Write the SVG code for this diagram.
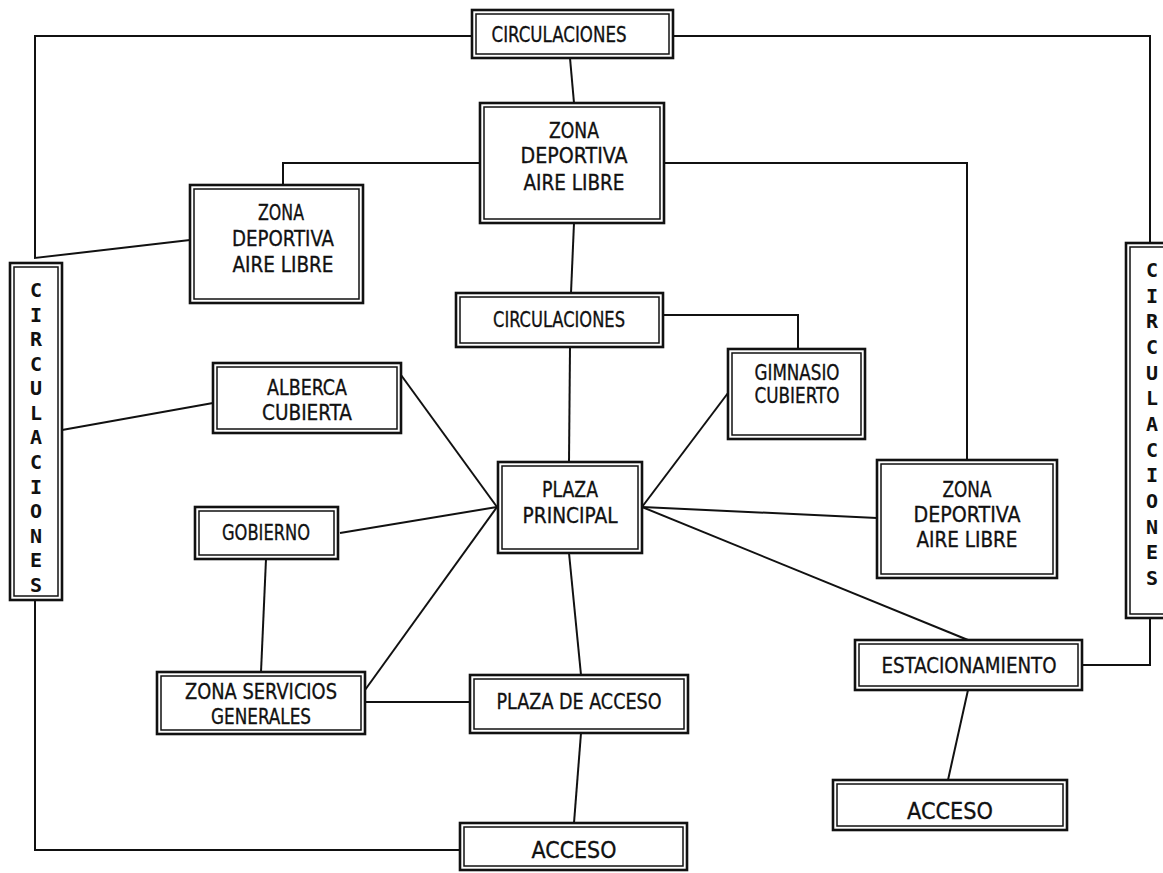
<svg xmlns="http://www.w3.org/2000/svg" width="1163" height="873" viewBox="0 0 1163 873">
<style>
.o{fill:#fff;stroke:#111;stroke-width:2.6}
.i{fill:none;stroke:#111;stroke-width:1.5}
.t{font-family:"DejaVu Sans Condensed","Liberation Sans",sans-serif;font-size:20.5px;fill:#111;stroke:#111;stroke-width:0.3;text-anchor:middle}
.a{font-size:23px}
.v{font-family:"DejaVu Sans Mono","Liberation Mono",monospace;font-size:20px;font-weight:bold;fill:#111;text-anchor:middle}
.c{fill:none;stroke:#111;stroke-width:2}
</style>
<rect width="1163" height="873" fill="#fff"/>
<g id="connectors">
<polyline class="c" points="472,36 35,36 35,258 190,240"/>
<polyline class="c" points="673,36 1150,36 1150,243"/>
<line class="c" x1="570" y1="58" x2="574" y2="103"/>
<polyline class="c" points="480,163 283,163 283,185"/>
<polyline class="c" points="664,163 967,163 967,460"/>
<line class="c" x1="574" y1="223" x2="571" y2="293"/>
<line class="c" x1="570" y1="347" x2="569" y2="462"/>
<polyline class="c" points="663,315 798,315 798,349"/>
<line class="c" x1="62" y1="430" x2="213" y2="403"/>
<line class="c" x1="401" y1="375" x2="497" y2="507"/>
<line class="c" x1="340" y1="533" x2="497" y2="507"/>
<line class="c" x1="365" y1="690" x2="497" y2="507"/>
<line class="c" x1="728" y1="393" x2="642" y2="507"/>
<line class="c" x1="642" y1="507" x2="877" y2="518"/>
<line class="c" x1="642" y1="507" x2="968" y2="640"/>
<line class="c" x1="266" y1="559" x2="261" y2="672"/>
<line class="c" x1="365" y1="702" x2="470" y2="702"/>
<line class="c" x1="569" y1="553" x2="581" y2="675"/>
<line class="c" x1="581" y1="733" x2="574" y2="823"/>
<polyline class="c" points="35,600 35,850 460,850"/>
<polyline class="c" points="1082,665 1150,665 1150,618"/>
<line class="c" x1="968" y1="690" x2="948" y2="780"/>
</g>
<g id="circ-top"><rect class="o" x="472" y="10" width="201" height="48"/><rect class="i" x="476" y="14" width="193" height="40"/><text class="t" x="559" y="42" textLength="135" lengthAdjust="spacingAndGlyphs">CIRCULACIONES</text></g>
<g id="zona-top"><rect class="o" x="480" y="103" width="184" height="120"/><rect class="i" x="484" y="107" width="176" height="112"/><text class="t" x="574" y="138" textLength="50" lengthAdjust="spacingAndGlyphs">ZONA</text><text class="t" x="574" y="163" textLength="107" lengthAdjust="spacingAndGlyphs">DEPORTIVA</text><text class="t" x="574" y="190" textLength="101" lengthAdjust="spacingAndGlyphs">AIRE LIBRE</text></g>
<g id="zona-left"><rect class="o" x="190" y="185" width="173" height="118"/><rect class="i" x="194" y="189" width="165" height="110"/><text class="t" x="281" y="220" textLength="46" lengthAdjust="spacingAndGlyphs">ZONA</text><text class="t" x="283" y="246" textLength="102" lengthAdjust="spacingAndGlyphs">DEPORTIVA</text><text class="t" x="283" y="272" textLength="101" lengthAdjust="spacingAndGlyphs">AIRE LIBRE</text></g>
<g id="circ-left"><rect class="o" x="10" y="263" width="52" height="337"/><rect class="i" x="14" y="267" width="44" height="329"/>
<text class="v" x="36" y="297">C</text><text class="v" x="36" y="322">I</text><text class="v" x="36" y="346">R</text><text class="v" x="36" y="371">C</text><text class="v" x="36" y="395">U</text><text class="v" x="36" y="420">L</text><text class="v" x="36" y="444">A</text><text class="v" x="36" y="469">C</text><text class="v" x="36" y="494">I</text><text class="v" x="36" y="518">O</text><text class="v" x="36" y="543">N</text><text class="v" x="36" y="567">E</text><text class="v" x="36" y="592">S</text></g>
<g id="circ-mid"><rect class="o" x="456" y="293" width="207" height="54"/><rect class="i" x="460" y="297" width="199" height="46"/><text class="t" x="559" y="327" textLength="132" lengthAdjust="spacingAndGlyphs">CIRCULACIONES</text></g>
<g id="alberca"><rect class="o" x="213" y="363" width="188" height="70"/><rect class="i" x="217" y="367" width="180" height="62"/><text class="t" x="307" y="395" textLength="80" lengthAdjust="spacingAndGlyphs">ALBERCA</text><text class="t" x="307" y="420" textLength="90" lengthAdjust="spacingAndGlyphs">CUBIERTA</text></g>
<g id="gimnasio"><rect class="o" x="728" y="349" width="137" height="90"/><rect class="i" x="732" y="353" width="129" height="82"/><text class="t" x="797" y="380" textLength="85" lengthAdjust="spacingAndGlyphs">GIMNASIO</text><text class="t" x="797" y="403" textLength="85" lengthAdjust="spacingAndGlyphs">CUBIERTO</text></g>
<g id="plaza-principal"><rect class="o" x="498" y="462" width="144" height="91"/><rect class="i" x="502" y="466" width="136" height="83"/><text class="t" x="570" y="497" textLength="56" lengthAdjust="spacingAndGlyphs">PLAZA</text><text class="t" x="570" y="523" textLength="95" lengthAdjust="spacingAndGlyphs">PRINCIPAL</text></g>
<g id="zona-right"><rect class="o" x="877" y="460" width="180" height="118"/><rect class="i" x="881" y="464" width="172" height="110"/><text class="t" x="967" y="497" textLength="49" lengthAdjust="spacingAndGlyphs">ZONA</text><text class="t" x="967" y="522" textLength="107" lengthAdjust="spacingAndGlyphs">DEPORTIVA</text><text class="t" x="967" y="547" textLength="101" lengthAdjust="spacingAndGlyphs">AIRE LIBRE</text></g>
<g id="gobierno"><rect class="o" x="195" y="507" width="143" height="52"/><rect class="i" x="199" y="511" width="135" height="44"/><text class="t" x="266" y="540" textLength="88" lengthAdjust="spacingAndGlyphs">GOBIERNO</text></g>
<g id="servicios"><rect class="o" x="157" y="672" width="208" height="62"/><rect class="i" x="161" y="676" width="200" height="54"/><text class="t" x="261" y="699" textLength="152" lengthAdjust="spacingAndGlyphs">ZONA SERVICIOS</text><text class="t" x="261" y="724" textLength="100" lengthAdjust="spacingAndGlyphs">GENERALES</text></g>
<g id="plaza-acceso"><rect class="o" x="470" y="675" width="218" height="58"/><rect class="i" x="474" y="679" width="210" height="50"/><text class="t" x="579" y="709" textLength="165" lengthAdjust="spacingAndGlyphs">PLAZA DE ACCESO</text></g>
<g id="estacionamiento"><rect class="o" x="855" y="640" width="227" height="50"/><rect class="i" x="859" y="644" width="219" height="42"/><text class="t" x="969" y="673" textLength="175" lengthAdjust="spacingAndGlyphs">ESTACIONAMIENTO</text></g>
<g id="circ-right"><rect class="o" x="1126" y="243" width="52" height="375"/><rect class="i" x="1130" y="247" width="44" height="367"/>
<text class="v" x="1152" y="277">C</text><text class="v" x="1152" y="303">I</text><text class="v" x="1152" y="328">R</text><text class="v" x="1152" y="354">C</text><text class="v" x="1152" y="380">U</text><text class="v" x="1152" y="405">L</text><text class="v" x="1152" y="431">A</text><text class="v" x="1152" y="457">C</text><text class="v" x="1152" y="482">I</text><text class="v" x="1152" y="508">O</text><text class="v" x="1152" y="534">N</text><text class="v" x="1152" y="559">E</text><text class="v" x="1152" y="585">S</text></g>
<g id="acceso-bottom"><rect class="o" x="460" y="823" width="227" height="47"/><rect class="i" x="464" y="827" width="219" height="39"/><text class="t a" x="574" y="858" textLength="85" lengthAdjust="spacingAndGlyphs">ACCESO</text></g>
<g id="acceso-right"><rect class="o" x="833" y="780" width="234" height="50"/><rect class="i" x="837" y="784" width="226" height="42"/><text class="t a" x="950" y="819" textLength="86" lengthAdjust="spacingAndGlyphs">ACCESO</text></g>
</svg>
